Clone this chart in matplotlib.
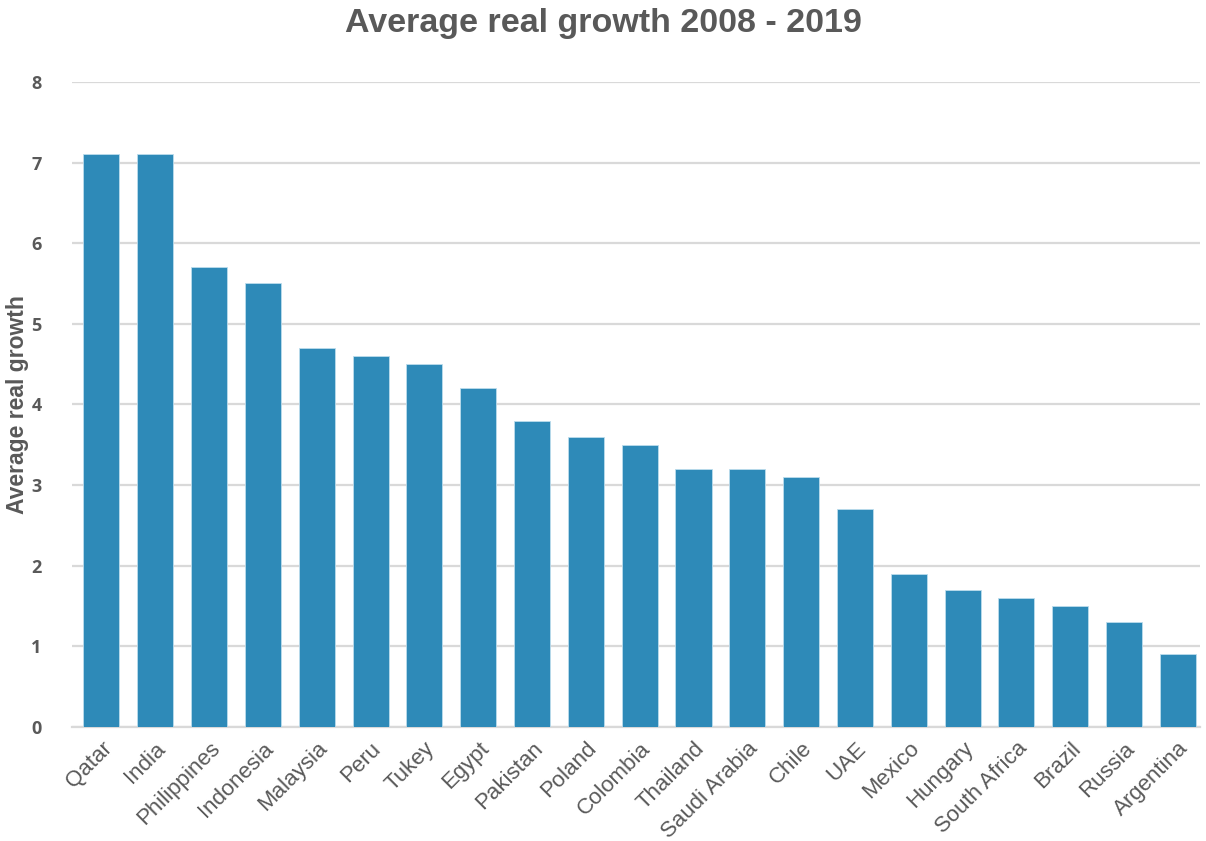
import matplotlib
matplotlib.use("Agg")
import matplotlib.pyplot as plt
from matplotlib.transforms import ScaledTranslation


COUNTRIES = [
    "Qatar", "India", "Philippines", "Indonesia", "Malaysia", "Peru", "Tukey",
    "Egypt", "Pakistan", "Poland", "Colombia", "Thailand", "Saudi Arabia",
    "Chile", "UAE", "Mexico", "Hungary", "South Africa", "Brazil", "Russia",
    "Argentina",
]
GROWTH = [
    7.1, 7.1, 5.7, 5.5, 4.7, 4.6, 4.5, 4.2, 3.8, 3.6, 3.5, 3.2, 3.2, 3.1,
    2.7, 1.9, 1.7, 1.6, 1.5, 1.3, 0.9,
]
Y_TICKS = [0, 1, 2, 3, 4, 5, 6, 7, 8]

BAR_COLOR = "#2e8ab8"
TEXT_COLOR = "#595959"
GRID_COLOR = "#d9d9d9"

fig = plt.figure(figsize=(12.06, 8.41), dpi=100)
ax = fig.add_axes([0.06, 0.1356, 0.935, 0.767])

positions = range(len(COUNTRIES))
ax.bar(positions, GROWTH, width=0.67, color=BAR_COLOR,
       edgecolor="#bcdcec", linewidth=0.6, zorder=3)

ax.set_xlim(-0.54, len(COUNTRIES) - 0.59)
ax.set_ylim(0, 8)
ax.set_yticks(Y_TICKS)
ax.set_yticklabels([str(t) for t in Y_TICKS], fontfamily="Open Sans",
                   fontweight="bold", fontsize=13, color=TEXT_COLOR)
ax.set_xticks(list(positions))
ax.set_xticklabels(COUNTRIES, rotation=45, ha="right", rotation_mode="anchor",
                   fontfamily="Liberation Sans", fontsize=16, color=TEXT_COLOR)
# nudge the slanted labels a little left so they end under the bar centre
shift = ScaledTranslation(-6 / 72, 0, fig.dpi_scale_trans)
for label in ax.get_xticklabels():
    label.set_transform(label.get_transform() + shift)

ax.grid(axis="y", color=GRID_COLOR, linewidth=1.6, zorder=0)
ax.tick_params(axis="both", length=0)
ax.tick_params(axis="y", pad=22)
ax.tick_params(axis="x", pad=8)
for side in ["top", "right", "left"]:
    ax.spines[side].set_visible(False)
ax.spines["bottom"].set_color(GRID_COLOR)
ax.spines["bottom"].set_linewidth(1.6)

ax.set_ylabel("Average real growth", fontfamily="Liberation Sans",
              fontweight="bold", fontsize=16.5, color=TEXT_COLOR, labelpad=2)
fig.text(0.5, 0.972, "Average real growth 2008 - 2019", ha="center", va="center",
         fontfamily="Liberation Sans", fontweight="bold", fontsize=24.5,
         color=TEXT_COLOR)

fig.savefig("out.png", dpi=100)
